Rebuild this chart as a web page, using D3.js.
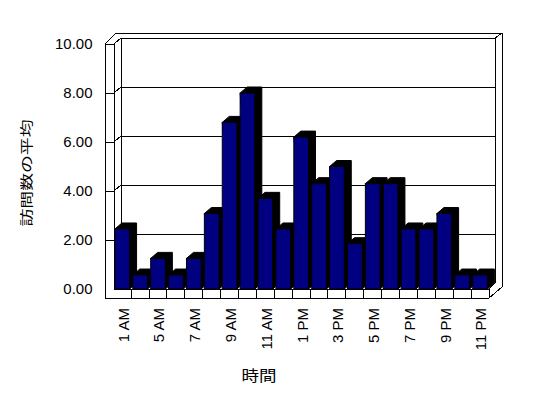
<!DOCTYPE html>
<html><head><meta charset="utf-8">
<script src="https://cdn.jsdelivr.net/npm/d3@7"></script>
<style>body{margin:0;background:#fff;} svg{display:block;}</style>
</head><body>
<svg id="c" width="548" height="398"></svg>
<script>
const categories = ["1 AM","4 AM","5 AM","6 AM","7 AM","8 AM","9 AM","10 AM","11 AM","12 PM","1 PM","2 PM","3 PM","4 PM","5 PM","6 PM","7 PM","8 PM","9 PM","10 PM","11 PM"];
const values = [2.45,0.57,1.25,0.57,1.25,3.08,6.8,8.0,3.7,2.45,6.2,4.3,5.0,1.85,4.3,4.3,2.45,2.45,3.08,0.57,0.57];
const yTicks = [0,2,4,6,8,10];
const xTickLabels = categories.filter((d,i)=>i%2===0);
const yTitle = "訪問数の平均";
const xTitle = "時間";

const svg = d3.select("#c");
const DX = 7, DY = 6;
const y = d3.scaleLinear().domain([0,10]).range([289,44]);
const x = d3.scaleBand().domain(categories).range([113.3,489]).paddingInner(0.18).paddingOuter(0.09);
const y0 = y(0), yTop = y(10);
const L = 105, LW = 114, R = x.range()[1];
const line = (pts)=> "M" + pts.map(p=>p.join(",")).join("L");

const g = svg.append("g").attr("fill","none").attr("stroke","#000").attr("stroke-width",1).attr("shape-rendering","crispEdges");
// outer contour of walls + floor
g.append("path").attr("fill","#fff").attr("d", line([[L,yTop],[L+6,yTop-DY],[L+11,yTop-11],[R+DX+6,yTop-11],[R+DX+6,y0-2],[R,y0+9],[L,y0+9]])+"Z");
// inner back wall edges
g.append("path").attr("d", line([[LW,yTop],[LW+DX,yTop-DY],[R+DX-1,yTop-DY],[R+DX-1,y0-DY],[R,y0]]));
g.append("path").attr("d", line([[R+DX-1,yTop-DY],[R+DX+6,yTop-11]]));
g.append("path").attr("d", line([[L,yTop],[LW,yTop],[LW,y0]]));
g.append("path").attr("d", line([[LW+DX,yTop-DY],[LW+DX,y0-DY]]));
// gridlines
yTicks.forEach(v=>{
  const yy = y(v);
  if (v>0 && v<10) {
    g.append("path").attr("d", line([[L,yy],[LW,yy],[LW+DX,yy-DY],[R+DX-1,yy-DY]]));
  }
});
// floor front face
g.append("path").attr("d", line([[LW,y0],[R,y0],[R,y0+9]]));
d3.range(1,categories.length).forEach(i=>{
  const xx = x.range()[0] + i*x.step();
  g.append("path").attr("d", line([[xx,y0],[xx,y0+9]]));
});

// bars
const bars = svg.append("g");
categories.forEach((c,i)=>{
  const x0 = x(c), x1 = x0 + x.bandwidth(), yt = y(values[i]);
  const b = bars.append("g");
  b.append("path").attr("fill","#000").attr("stroke","#000")
    .attr("d", line([[x0,yt],[x0+DX,yt-DY],[x1+DX,yt-DY],[x1+DX,y0-DY],[x1,y0]])+"Z");
  b.append("rect").attr("x",x0).attr("y",yt).attr("width",x.bandwidth()).attr("height",y0-yt)
    .attr("fill","#000080").attr("stroke","#000").attr("stroke-width",1);
});

// y tick labels
svg.append("g").selectAll("text").data(yTicks).join("text")
  .attr("x",92.5).attr("y",d=>y(d)).attr("dy","0.36em").attr("text-anchor","end")
  .attr("font-family","Liberation Sans, Arial, sans-serif").attr("font-size",15)
  .text(d=>d3.format(".2f")(d));

// x tick labels
svg.append("g").selectAll("text").data(xTickLabels).join("text")
  .attr("transform",d=>`translate(${x(d)+x.bandwidth()/2+1},308) rotate(-90)`)
  .attr("dy","0.36em").attr("text-anchor","end")
  .attr("font-family","Liberation Sans, Arial, sans-serif").attr("font-size",15)
  .text(d=>d);

// titles
svg.append("text").attr("transform","translate(25.5,173) rotate(-90)")
  .attr("text-anchor","middle").attr("dominant-baseline","central")
  .attr("font-family","Noto Sans CJK JP, sans-serif").attr("font-size",13)
  .attr("textLength",107).attr("lengthAdjust","spacingAndGlyphs").text(yTitle);
svg.append("text").attr("x",259).attr("y",374.5)
  .attr("text-anchor","middle").attr("dominant-baseline","central")
  .attr("font-family","Noto Sans CJK JP, sans-serif").attr("font-size",15)
  .attr("textLength",35).attr("lengthAdjust","spacingAndGlyphs").text(xTitle);
</script>
</body></html>
